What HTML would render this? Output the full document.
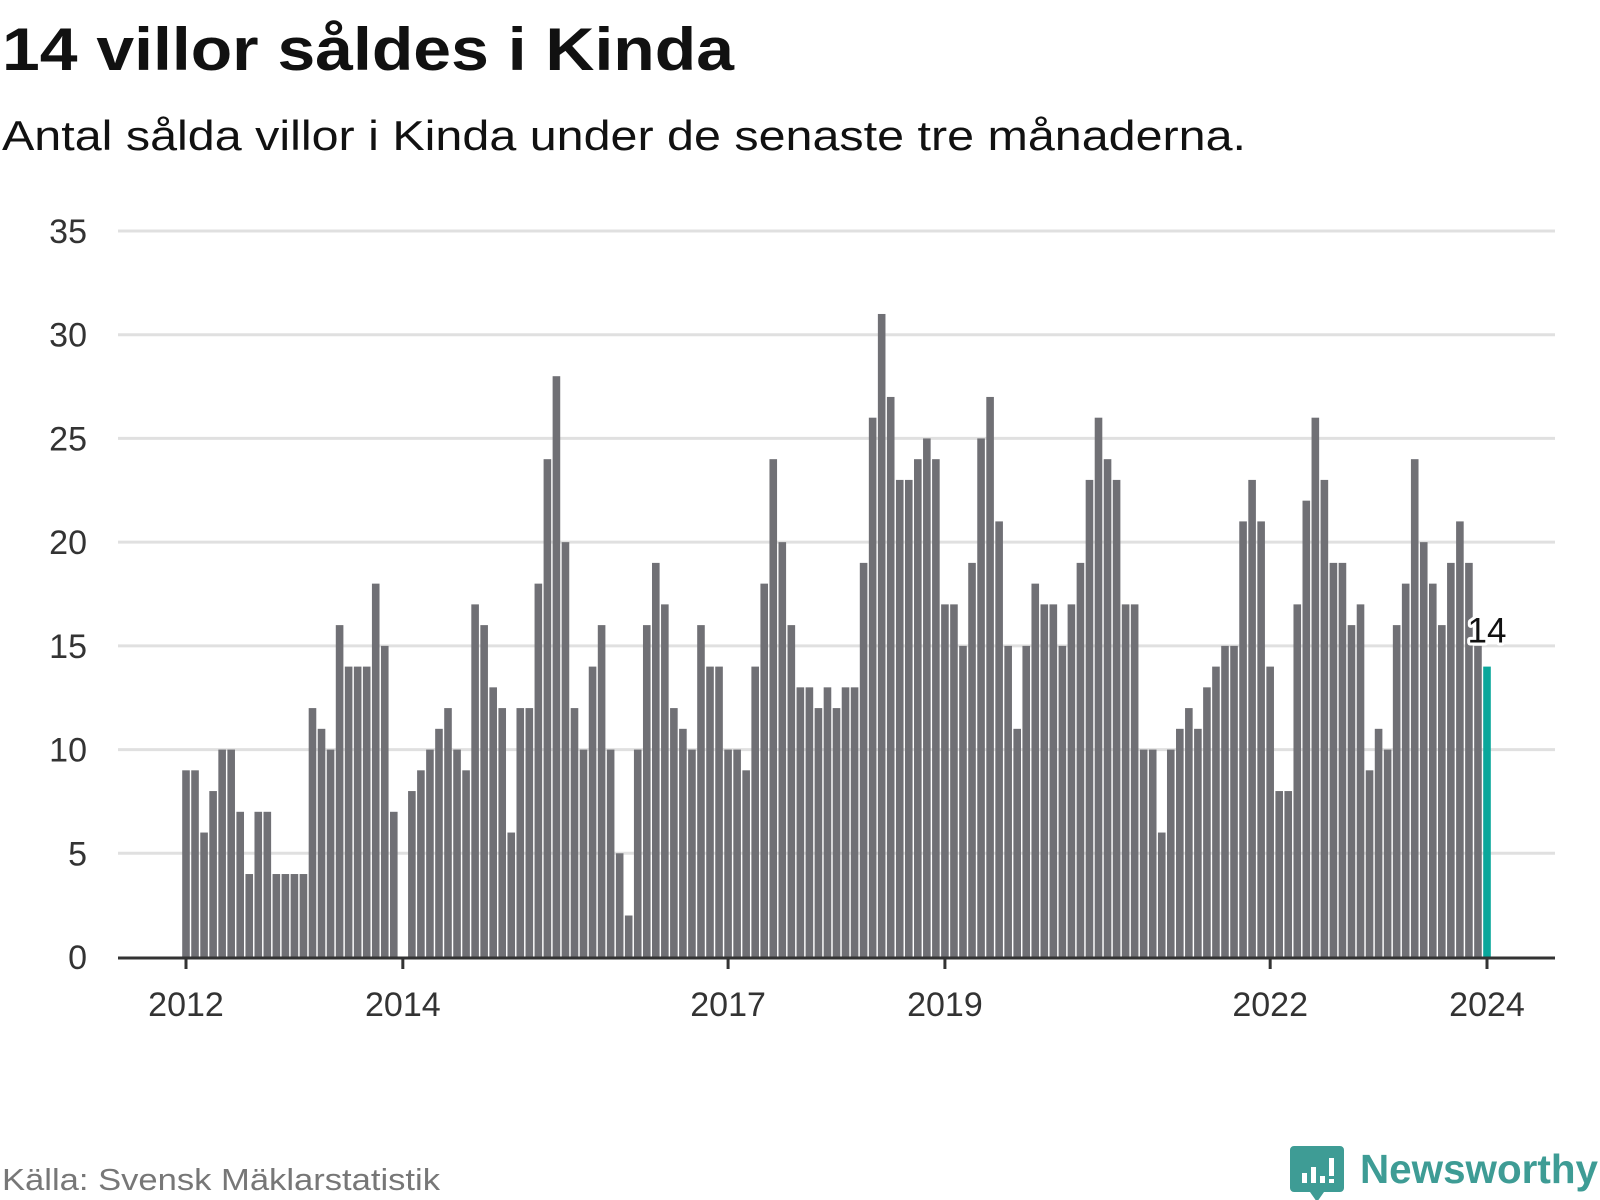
<!DOCTYPE html>
<html><head><meta charset="utf-8"><style>
body{margin:0;background:#fff;}
svg{display:block;font-family:"Liberation Sans",sans-serif;}
</style></head><body>
<svg id="chart" width="1600" height="1200" viewBox="0 0 1600 1200">
<text x="2" y="70" font-size="60" font-weight="bold" fill="#111" textLength="732" lengthAdjust="spacingAndGlyphs">14 villor såldes i Kinda</text>
<text x="2" y="150" font-size="42" fill="#111" textLength="1244" lengthAdjust="spacingAndGlyphs">Antal sålda villor i Kinda under de senaste tre månaderna.</text>
<g id="grid"></g><g id="bars"></g><g id="axis"></g>
<text x="2" y="1190" font-size="31" fill="#777" textLength="438" lengthAdjust="spacingAndGlyphs">Källa: Svensk Mäklarstatistik</text>
<g>
<path d="M1294 1146 h46 a4 4 0 0 1 4 4 v38 a4 4 0 0 1 -4 4 h-16 l-7 10 l-7 -10 h-16 a4 4 0 0 1 -4 -4 v-38 a4 4 0 0 1 4 -4z" fill="#3e9c95"/>
<rect x="1302" y="1173" width="5" height="10" fill="#fff"/><rect x="1311" y="1167" width="5" height="16" fill="#fff"/><rect x="1320" y="1176" width="5" height="7" fill="#fff"/><rect x="1329" y="1158" width="5" height="18" fill="#fff"/><rect x="1329" y="1179" width="5" height="4" fill="#fff"/>
<text x="1360" y="1183" font-size="41" font-weight="bold" fill="#3e9c95" textLength="238" lengthAdjust="spacingAndGlyphs">Newsworthy</text>
</g>
</svg>
<script>
const values = [9,9,6,8,10,10,7,4,7,7,4,4,
4,4,12,11,10,16,14,14,14,18,15,7,
0,8,9,10,11,12,10,9,17,16,13,12,
6,12,12,18,24,28,20,12,10,14,16,10,
5,2,10,16,19,17,12,11,10,16,14,14,
10,10,9,14,18,24,20,16,13,13,12,13,
12,13,13,19,26,31,27,23,23,24,25,24,
17,17,15,19,25,27,21,15,11,15,18,17,
17,15,17,19,23,26,24,23,17,17,10,10,
6,10,11,12,11,13,14,15,15,21,23,21,
14,8,8,17,22,26,23,19,19,16,17,9,
11,10,16,18,24,20,18,16,19,21,19,15,
14];
const yTicks = [0,5,10,15,20,25,30,35];
const xTickLabels = ["2012","2014","2017","2019","2022","2024"];
const xTickIndex = [0,24,60,84,120,144];

const NS="http://www.w3.org/2000/svg";
const y0=957, yTop=231, yMax=35, x0=186, x1=1487, left=118, right=1555;
const y=v=>y0-(v/yMax)*(y0-yTop);
const x=i=>x0+i*(x1-x0)/(values.length-1);
function mk(t,a,p){const e=document.createElementNS(NS,t);for(const k in a)e.setAttribute(k,a[k]);p.appendChild(e);return e;}
const grid=document.getElementById('grid'),bars=document.getElementById('bars'),axis=document.getElementById('axis');
yTicks.forEach(v=>{
 if(v>0){const l=mk('line',{x1:left,x2:right,y1:y(v),y2:y(v),stroke:'#e0e0e0','stroke-width':3},grid);
 
 }
 const t=mk('text',{x:87,y:y(v)+12,'text-anchor':'end','font-size':34,fill:'#333'},grid);
 
 
 t.textContent=v;
});
const bw=7.6;
values.forEach((v,i)=>{
 const last=i===values.length-1;
 const r=mk('rect',{x:x(i)-bw/2,y:y(v),width:bw,height:y0-y(v),fill:last?'#0aa79b':'#707075'},bars);
 
 
});
const al=mk('line',{x1:left,x2:right,y1:y0+1,y2:y0+1,stroke:'#333','stroke-width':3},axis);


xTickLabels.forEach((lab,k)=>{
 const xi=x(xTickIndex[k]);
 const tk=mk('line',{x1:xi,x2:xi,y1:y0,y2:y0+12,stroke:'#333','stroke-width':3},axis);
 
 
 const t=mk('text',{x:xi,y:1016,'text-anchor':'middle','font-size':34,fill:'#333'},axis);
 
 
 t.textContent=lab;
});
const li=values.length-1;
const lbl=mk('text',{x:x(li),y:y(values[li])-24,'text-anchor':'middle','font-size':35,fill:'#111',stroke:'#fff','stroke-width':6,'paint-order':'stroke','stroke-linejoin':'round'},axis);


lbl.textContent=values[li];
</script>
</body></html>
